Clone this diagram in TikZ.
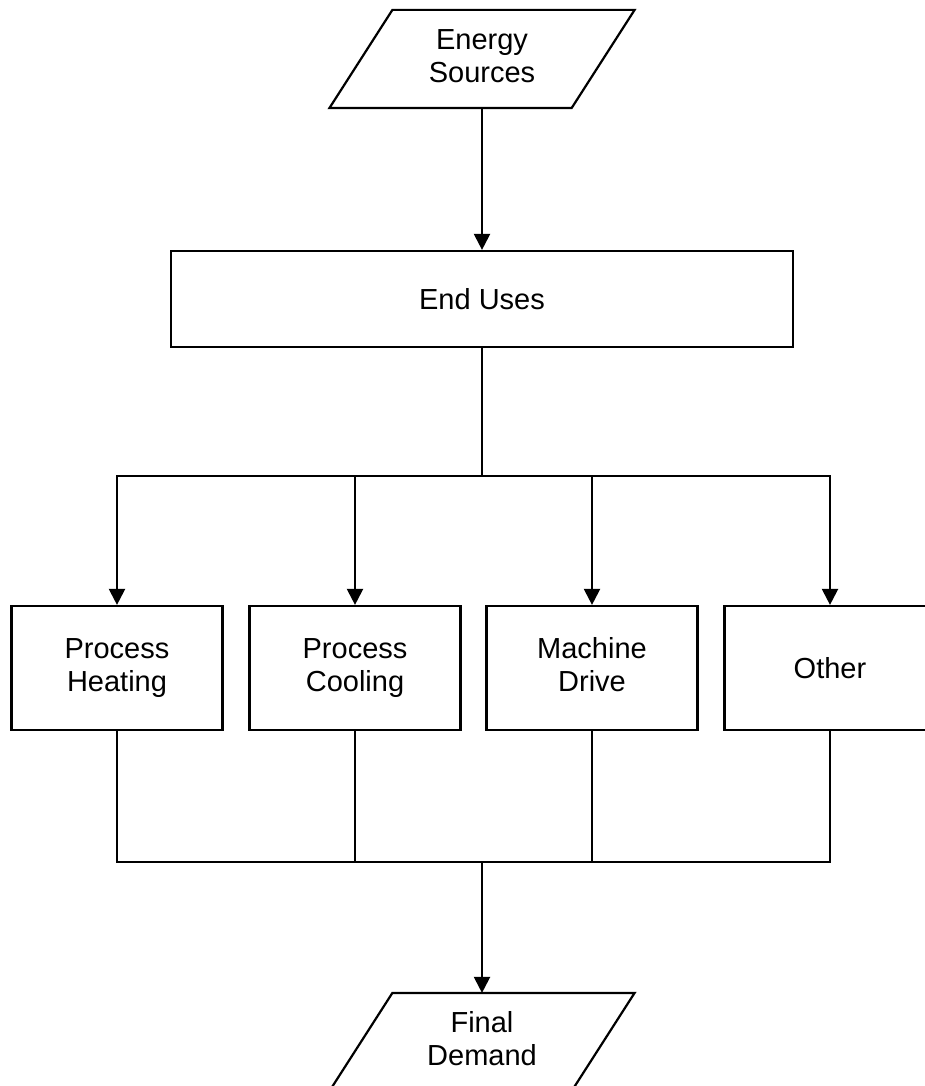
\documentclass[tikz,border=0pt]{standalone}
\usepackage{fontspec}
\setmainfont{Liberation Sans}
\usetikzlibrary{arrows.meta,calc}
\newcommand{\twol}[2]{\strut#1\\#2\strut}
\begin{document}
\begin{tikzpicture}[x=1pt,y=1pt,
  line width=2.2pt,
  box/.style={draw, line width=2.2pt, minimum width=211pt, minimum height=124pt, inner sep=0pt, align=center, font=\fontsize{29}{33}\selectfont},
  io/.style={minimum width=240pt, minimum height=96pt, inner sep=0pt, align=center, font=\fontsize{29}{33}\selectfont},
  arr/.style={-{Triangle[width=16pt,length=16pt]}, line width=2.2pt},
  ln/.style={line width=2.2pt}]
\useasboundingbox (0,0) rectangle (925,-1086);
% nodes
\node[io] (src) at (482,-59) {\twol{Energy}{Sources}};
\draw[ln] ($(src.north west)+(31.5,0)$) -- ($(src.north east)+(31.5,0)$) -- ($(src.south east)+(-31.5,0)$) -- ($(src.south west)+(-31.5,0)$) -- cycle;
\node[box, minimum width=622pt, minimum height=96pt] (eu) at (482,-299) {End Uses};
\node[box] (ph) at (117,-668) {\twol{Process}{Heating}};
\node[box] (pc) at (355,-668) {\twol{Process}{Cooling}};
\node[box] (md) at (592,-668) {\twol{Machine}{Drive}};
\node[box] (ot) at (830,-668) {Other};
\node[io] (fd) at (482,-1042) {\twol{Final}{Demand}};
\draw[ln] ($(fd.north west)+(31.5,0)$) -- ($(fd.north east)+(31.5,0)$) -- ($(fd.south east)+(-31.5,0)$) -- ($(fd.south west)+(-31.5,0)$) -- cycle;
\coordinate (split) at (482,-476);
\coordinate (join) at (482,-862);
% connectors
\draw[arr] (src.south) -- (eu.north);
\draw[ln] (eu.south) -- (split);
\draw[arr] (split) -| (ph.north);
\draw[arr] (split) -| (pc.north);
\draw[arr] (split) -| (md.north);
\draw[arr] (split) -| (ot.north);
\draw[ln] (ph.south) |- (join);
\draw[ln] (pc.south) |- (join);
\draw[ln] (md.south) |- (join);
\draw[ln] (ot.south) |- (join);
\draw[arr] (join) -- (fd.north);
\end{tikzpicture}
\end{document}
